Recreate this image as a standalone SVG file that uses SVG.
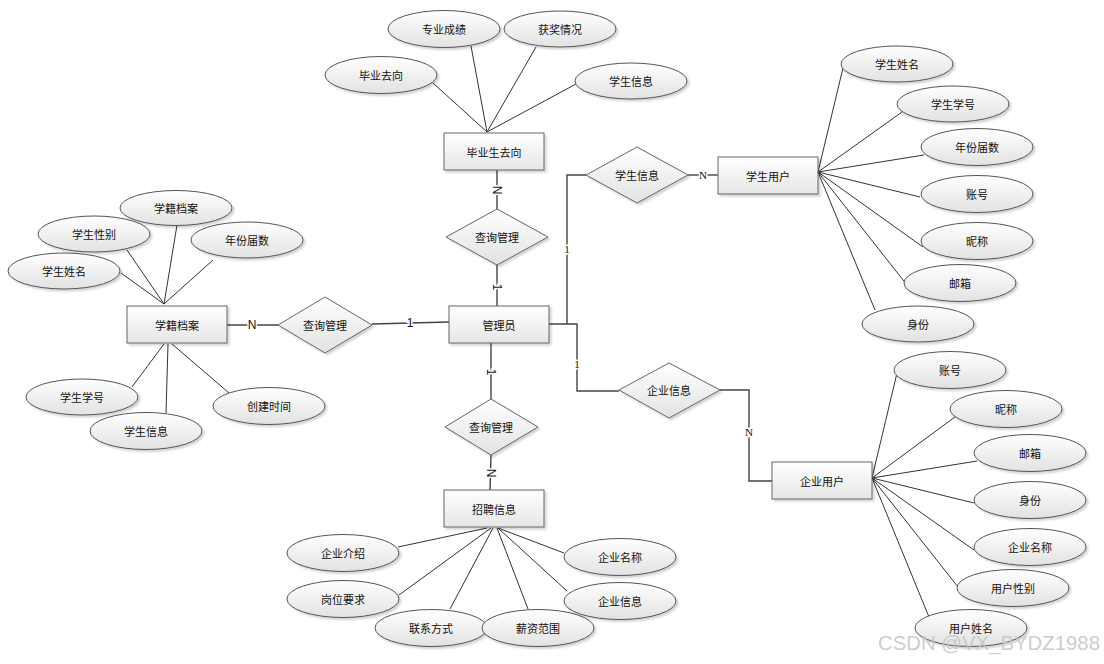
<svg xmlns="http://www.w3.org/2000/svg" width="1104" height="664" viewBox="0 0 1104 664">
<defs>
<linearGradient id="gE" x1="0" y1="0" x2="0" y2="1"><stop offset="0" stop-color="#ffffff"/><stop offset="1" stop-color="#e2e2e2"/></linearGradient>
<linearGradient id="gR" x1="0" y1="0" x2="0" y2="1"><stop offset="0" stop-color="#ffffff"/><stop offset="1" stop-color="#e6e6e6"/></linearGradient>
<filter id="sh" x="-10%" y="-10%" width="130%" height="140%"><feDropShadow dx="2" dy="2" stdDeviation="1.2" flood-color="#000" flood-opacity="0.18"/></filter>
</defs>
<style>
.e{fill:url(#gE);stroke:#555;stroke-width:1;filter:url(#sh)}
.r{fill:url(#gR);stroke:#666;stroke-width:1;filter:url(#sh)}
.d{fill:url(#gE);stroke:#666;stroke-width:1;filter:url(#sh)}
.t{font-family:"Noto Sans CJK SC","Liberation Sans",sans-serif;font-size:11px;fill:#111;text-anchor:middle;dominant-baseline:central}
.a{stroke:#333;stroke-width:1;fill:none}
.c{stroke:#444;stroke-width:1.4;fill:none}
.l{font-family:"Liberation Sans",sans-serif;font-size:12px;fill:#111;text-anchor:middle;dominant-baseline:central;stroke:#fff;stroke-width:3;paint-order:stroke}
.ls{font-family:"Liberation Serif",serif;font-size:11px;fill:#111;text-anchor:middle;dominant-baseline:central;stroke:#fff;stroke-width:3;paint-order:stroke}
</style>
<rect width="1104" height="664" fill="#fff"/>
<g id="connectors">
<path class="a" d="M433 83L487 132M471 46L487 132M536 47L487 132M576 84L487 132"/>
<path class="a" d="M121 273L164 304M127 250L164 304M177 225L164 304M213 260L164 304M132 387L164 344M166 413L168 344M229 393L172 344"/>
<path class="a" d="M843 68L818 172M902 112L818 172M924 155L818 172M920 197L818 172M923 247L818 172M907 285L818 172M875 310L818 172"/>
<path class="a" d="M897 373L872 478M955 417L872 478M977 461L872 478M974 503L872 478M974 550L872 478M958 587L872 478M929 617L872 478"/>
<path class="a" d="M398 547L487 528M399 595L491 528M450 609L493 528M528 609L497 528M564 553L498 528M567 591L498 528"/>
<path class="c" d="M497 170V209"/>
<path class="c" d="M497 265V306"/>
<path class="c" d="M226 325H278"/>
<path class="c" d="M372 324L449 322"/>
<path class="c" d="M491 343V399"/>
<path class="c" d="M491 455L490 490"/>
<path class="c" d="M549 324H577V391H619"/>
<path class="c" d="M567 324V175H586"/>
<path class="c" d="M688 175H718"/>
<path class="c" d="M720 390H749V481H772"/>
<text class="l" transform="translate(497,190) rotate(90)">N</text>
<text class="l" transform="translate(497,287) rotate(90)">1</text>
<text class="l" x="252" y="325">N</text>
<text class="l" x="410" y="323">1</text>
<text class="l" transform="translate(491,372) rotate(90)">1</text>
<text class="l" transform="translate(491,473) rotate(90)">N</text>
<text class="ls" x="567" y="249">1</text>
<text class="ls" x="577" y="364">1</text>
<text class="ls" x="703" y="175">N</text>
<text class="ls" x="749" y="432">N</text>
</g>
<g id="e_bysqx"><rect class="r" x="444" y="133" width="100" height="37"/><text class="t" x="494" y="152">毕业生去向</text></g>
<g id="e_xjda"><rect class="r" x="127" y="306" width="100" height="37"/><text class="t" x="177" y="325">学籍档案</text></g>
<g id="e_gly"><rect class="r" x="449" y="306" width="100" height="37"/><text class="t" x="499" y="325">管理员</text></g>
<g id="e_zpxx"><rect class="r" x="444" y="490" width="100" height="37"/><text class="t" x="494" y="509">招聘信息</text></g>
<g id="e_xsyh"><rect class="r" x="718" y="157" width="100" height="37"/><text class="t" x="768" y="176">学生用户</text></g>
<g id="e_qyyh"><rect class="r" x="772" y="462" width="100" height="37"/><text class="t" x="822" y="481">企业用户</text></g>
<g id="r_top"><polygon class="d" points="446,237 497,209 548,237 497,265"/><text class="t" x="497" y="237">查询管理</text></g>
<g id="r_left"><polygon class="d" points="278,325 325,297 372,325 325,353"/><text class="t" x="325" y="325">查询管理</text></g>
<g id="r_bottom"><polygon class="d" points="445,427 491,399 538,427 491,455"/><text class="t" x="491" y="427">查询管理</text></g>
<g id="r_xsxx"><polygon class="d" points="586,175 637,147 688,175 637,203"/><text class="t" x="637" y="175">学生信息</text></g>
<g id="r_qyxx"><polygon class="d" points="619,390 669,363 720,390 669,418"/><text class="t" x="669" y="390">企业信息</text></g>
<g id="a1"><ellipse class="e" cx="444" cy="29" rx="56" ry="18.5"/><text class="t" x="444" y="29">专业成绩</text></g>
<g id="a2"><ellipse class="e" cx="560" cy="29" rx="56" ry="18"/><text class="t" x="560" y="29">获奖情况</text></g>
<g id="a3"><ellipse class="e" cx="381" cy="75" rx="56" ry="18.5"/><text class="t" x="381" y="75">毕业去向</text></g>
<g id="a4"><ellipse class="e" cx="631" cy="81" rx="56" ry="18"/><text class="t" x="631" y="81">学生信息</text></g>
<g id="a5"><ellipse class="e" cx="176" cy="208" rx="56" ry="17.5"/><text class="t" x="176" y="208">学籍档案</text></g>
<g id="a6"><ellipse class="e" cx="94" cy="234" rx="56" ry="18"/><text class="t" x="94" y="234">学生性别</text></g>
<g id="a7"><ellipse class="e" cx="247" cy="240" rx="56" ry="18"/><text class="t" x="247" y="240">年份届数</text></g>
<g id="a8"><ellipse class="e" cx="64" cy="271" rx="56" ry="18"/><text class="t" x="64" y="271">学生姓名</text></g>
<g id="a9"><ellipse class="e" cx="82" cy="397" rx="56" ry="18"/><text class="t" x="82" y="397">学生学号</text></g>
<g id="a10"><ellipse class="e" cx="146" cy="431" rx="56" ry="18.5"/><text class="t" x="146" y="431">学生信息</text></g>
<g id="a11"><ellipse class="e" cx="269" cy="406" rx="56" ry="18.5"/><text class="t" x="269" y="406">创建时间</text></g>
<g id="a12"><ellipse class="e" cx="897" cy="64" rx="56" ry="18"/><text class="t" x="897" y="64">学生姓名</text></g>
<g id="a13"><ellipse class="e" cx="953" cy="104" rx="56" ry="18"/><text class="t" x="953" y="104">学生学号</text></g>
<g id="a14"><ellipse class="e" cx="977" cy="147" rx="56" ry="18.5"/><text class="t" x="977" y="147">年份届数</text></g>
<g id="a15"><ellipse class="e" cx="977" cy="194" rx="56" ry="18.5"/><text class="t" x="977" y="194">账号</text></g>
<g id="a16"><ellipse class="e" cx="977" cy="241" rx="56" ry="18.5"/><text class="t" x="977" y="241">昵称</text></g>
<g id="a17"><ellipse class="e" cx="960" cy="283" rx="56" ry="18.5"/><text class="t" x="960" y="283">邮箱</text></g>
<g id="a18"><ellipse class="e" cx="918" cy="324" rx="56" ry="18"/><text class="t" x="918" y="324">身份</text></g>
<g id="a19"><ellipse class="e" cx="950" cy="370" rx="56" ry="18.5"/><text class="t" x="950" y="370">账号</text></g>
<g id="a20"><ellipse class="e" cx="1006" cy="409" rx="56" ry="18.5"/><text class="t" x="1006" y="409">昵称</text></g>
<g id="a21"><ellipse class="e" cx="1030" cy="453" rx="56" ry="18.5"/><text class="t" x="1030" y="453">邮箱</text></g>
<g id="a22"><ellipse class="e" cx="1030" cy="500" rx="56" ry="18.5"/><text class="t" x="1030" y="500">身份</text></g>
<g id="a23"><ellipse class="e" cx="1030" cy="547" rx="56" ry="18.5"/><text class="t" x="1030" y="547">企业名称</text></g>
<g id="a24"><ellipse class="e" cx="1013" cy="588" rx="56" ry="18.5"/><text class="t" x="1013" y="588">用户性别</text></g>
<g id="a25"><ellipse class="e" cx="971" cy="628" rx="56" ry="18.5"/><text class="t" x="971" y="628">用户姓名</text></g>
<g id="a26"><ellipse class="e" cx="343" cy="553" rx="56" ry="18.5"/><text class="t" x="343" y="553">企业介绍</text></g>
<g id="a27"><ellipse class="e" cx="343" cy="599" rx="56" ry="18.5"/><text class="t" x="343" y="599">岗位要求</text></g>
<g id="a28"><ellipse class="e" cx="431" cy="628" rx="56" ry="18.5"/><text class="t" x="431" y="628">联系方式</text></g>
<g id="a29"><ellipse class="e" cx="538" cy="628" rx="56" ry="18.5"/><text class="t" x="538" y="628">薪资范围</text></g>
<g id="a30"><ellipse class="e" cx="620" cy="557" rx="56" ry="18.5"/><text class="t" x="620" y="557">企业名称</text></g>
<g id="a31"><ellipse class="e" cx="620" cy="601" rx="56" ry="18.5"/><text class="t" x="620" y="601">企业信息</text></g>
<text x="878" y="650" font-family="Liberation Sans,sans-serif" font-size="21" fill="#c4c4c4" fill-opacity="0.85" textLength="222" lengthAdjust="spacingAndGlyphs">CSDN @VX_BYDZ1988</text>
</svg>
